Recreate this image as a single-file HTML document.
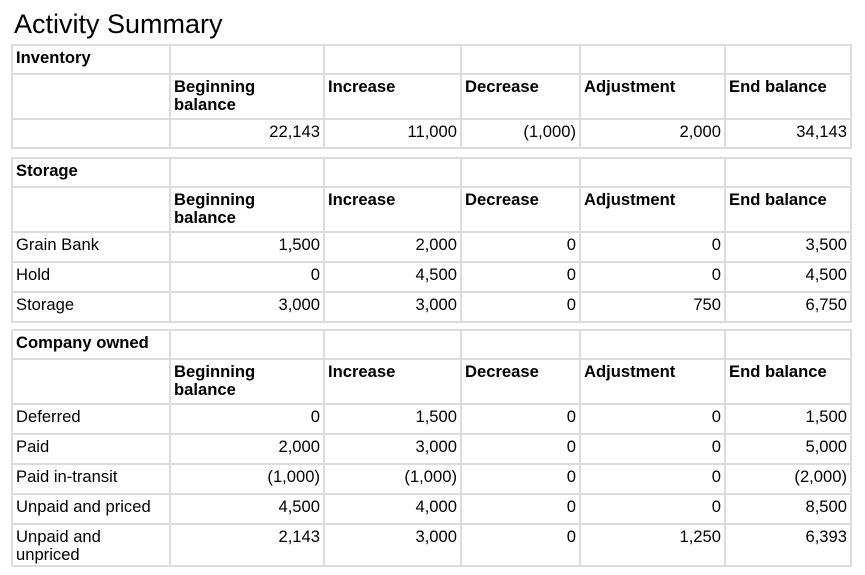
<!DOCTYPE html>
<html><head><style>
body{margin:0;width:865px;height:575px;background:#fff;font-family:"Liberation Sans",Arial,sans-serif;position:relative;overflow:hidden}
h1{position:absolute;left:14px;top:7px;margin:0;font-weight:normal;font-size:27px;color:#000;line-height:34px}
table{position:absolute;left:11px;border-collapse:collapse;table-layout:fixed;width:839px}
td{border:2px solid #dcdcdc;font-size:16.6px;line-height:18px;padding:3px 3px 0 3px;vertical-align:top;color:#000;overflow:hidden}
td.n{text-align:right}
td.b,tr.h td{font-weight:bold}
tr.s{height:29px}
tr.d{height:30px}
tr.h{height:45px}
tr.t{height:42px}
</style></head><body>
<h1>Activity Summary</h1>
<table style="top:44px">
<colgroup><col style="width:158px"><col style="width:154px"><col style="width:137px"><col style="width:119px"><col style="width:145px"><col style="width:126px"></colgroup>
<tr class="s"><td class="b">Inventory</td><td></td><td></td><td></td><td></td><td></td></tr>
<tr class="h"><td></td><td>Beginning<br>balance</td><td>Increase</td><td>Decrease</td><td>Adjustment</td><td>End balance</td></tr>
<tr class="s"><td></td><td class="n">22,143</td><td class="n">11,000</td><td class="n">(1,000)</td><td class="n">2,000</td><td class="n">34,143</td></tr>
</table>
<table style="top:157px">
<colgroup><col style="width:158px"><col style="width:154px"><col style="width:137px"><col style="width:119px"><col style="width:145px"><col style="width:126px"></colgroup>
<tr class="s"><td class="b">Storage</td><td></td><td></td><td></td><td></td><td></td></tr>
<tr class="h"><td></td><td>Beginning<br>balance</td><td>Increase</td><td>Decrease</td><td>Adjustment</td><td>End balance</td></tr>
<tr class="d"><td>Grain Bank</td><td class="n">1,500</td><td class="n">2,000</td><td class="n">0</td><td class="n">0</td><td class="n">3,500</td></tr>
<tr class="d"><td>Hold</td><td class="n">0</td><td class="n">4,500</td><td class="n">0</td><td class="n">0</td><td class="n">4,500</td></tr>
<tr class="d"><td>Storage</td><td class="n">3,000</td><td class="n">3,000</td><td class="n">0</td><td class="n">750</td><td class="n">6,750</td></tr>
</table>
<table style="top:329px">
<colgroup><col style="width:158px"><col style="width:154px"><col style="width:137px"><col style="width:119px"><col style="width:145px"><col style="width:126px"></colgroup>
<tr class="s"><td class="b">Company owned</td><td></td><td></td><td></td><td></td><td></td></tr>
<tr class="h"><td></td><td>Beginning<br>balance</td><td>Increase</td><td>Decrease</td><td>Adjustment</td><td>End balance</td></tr>
<tr class="d"><td>Deferred</td><td class="n">0</td><td class="n">1,500</td><td class="n">0</td><td class="n">0</td><td class="n">1,500</td></tr>
<tr class="d"><td>Paid</td><td class="n">2,000</td><td class="n">3,000</td><td class="n">0</td><td class="n">0</td><td class="n">5,000</td></tr>
<tr class="d"><td>Paid in-transit</td><td class="n">(1,000)</td><td class="n">(1,000)</td><td class="n">0</td><td class="n">0</td><td class="n">(2,000)</td></tr>
<tr class="d"><td>Unpaid and priced</td><td class="n">4,500</td><td class="n">4,000</td><td class="n">0</td><td class="n">0</td><td class="n">8,500</td></tr>
<tr class="t"><td>Unpaid and<br>unpriced</td><td class="n">2,143</td><td class="n">3,000</td><td class="n">0</td><td class="n">1,250</td><td class="n">6,393</td></tr>
</table>
</body></html>
